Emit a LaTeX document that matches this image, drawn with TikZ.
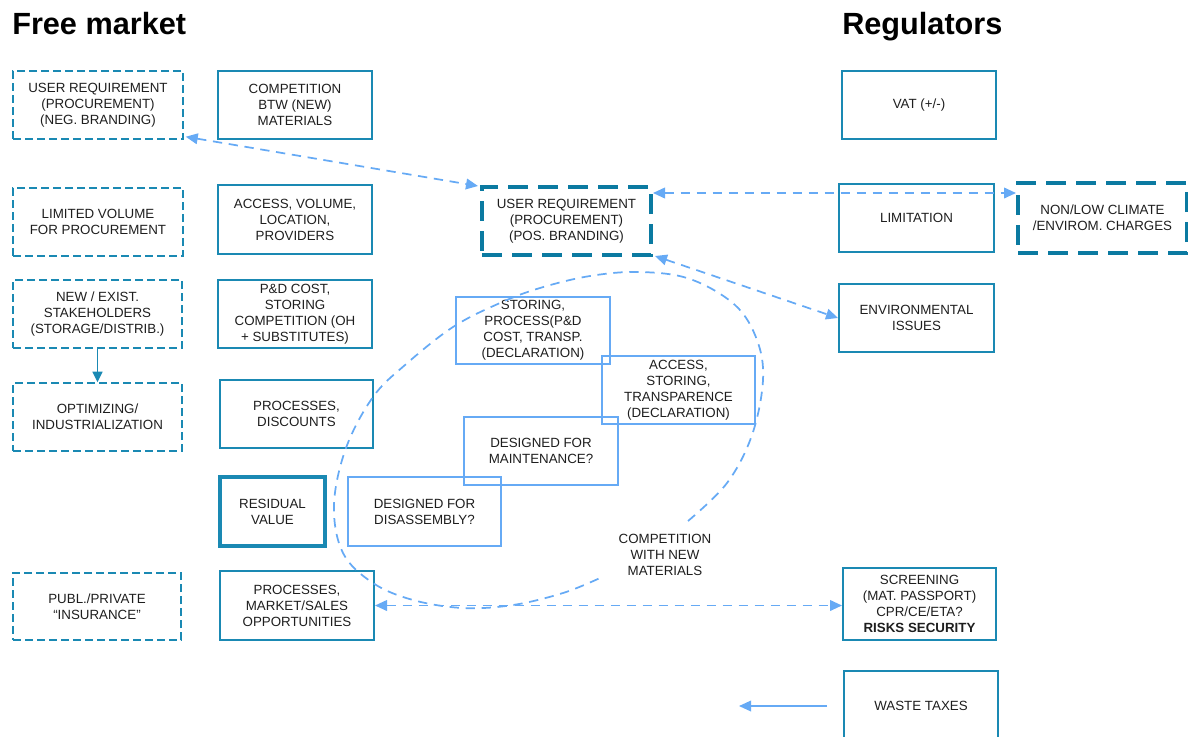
\documentclass[tikz,border=0pt]{standalone}
\usepackage{fontspec}
\setmainfont{Liberation Sans}
\usetikzlibrary{arrows.meta,calc}
\definecolor{teal1}{HTML}{1A89B3}
\definecolor{teal2}{HTML}{0B7AA1}
\definecolor{lblue}{HTML}{66AAF5}
\definecolor{tgray}{HTML}{1E1E1E}
\tikzset{
  txt/.style={font=\fontsize{10}{12}\selectfont, text=tgray, align=center, inner sep=0pt},
  bx/.style n args={2}{minimum width=#1*0.75pt, minimum height=#2*0.75pt},
  dashbox/.style={txt, draw=teal1, line width=1.1pt, dash pattern=on 6pt off 3pt},
  solidbox/.style={txt, draw=teal1, line width=1.5pt},
  thickbox/.style={txt, draw=teal1, line width=3pt},
  thickdash/.style={txt, draw=teal2, line width=3pt, dash pattern=on 15pt off 7.5pt},
  lbox/.style={txt, draw=lblue, line width=1.3pt},
  darr/.style={draw=lblue, line width=1.3pt, dash pattern=on 7pt off 5pt,
     {Triangle[length=9pt,width=8pt]}-{Triangle[length=9pt,width=8pt]}},
  sarr/.style={draw=lblue, line width=1pt, -{Triangle[length=9pt,width=8pt]}},
  tarr/.style={draw=teal1, line width=1.1pt, -{Triangle[length=8pt,width=7.5pt]}},
  loopline/.style={draw=lblue, line width=1.3pt, dash pattern=on 7pt off 5pt},
  title/.style={font=\fontsize{23}{26}\selectfont\bfseries, text=black, inner sep=0pt, anchor=base west}
}
\begin{document}
\begin{tikzpicture}[x=0.75pt,y=-0.75pt]
\useasboundingbox (0,0) rectangle (1188,736);
\clip (0,0) rectangle (1188,736);

% titles
\node[title] (tfree) at (12,34) {Free market};
\node[title] (treg) at (842,34) {Regulators};

% left dashed column
\node[dashbox, bx={170}{68}] (urneg) at (98,105) {USER REQUIREMENT\\(PROCUREMENT)\\(NEG. BRANDING)};
\node[dashbox, bx={170}{68}] (limvol) at (98,222) {LIMITED VOLUME\\FOR PROCUREMENT};
\node[dashbox, bx={169}{68}] (newex) at (97.5,314) {NEW / EXIST.\\STAKEHOLDERS\\(STORAGE/DISTRIB.)};
\node[dashbox, bx={169}{68}] (optim) at (97.5,417) {OPTIMIZING/\\INDUSTRIALIZATION};
\node[dashbox, bx={168}{67}] (publ) at (97,606.5) {PUBL./PRIVATE\\“INSURANCE”};

% second column
\node[solidbox, bx={154}{68}] (compbtw) at (295,105) {COMPETITION\\BTW (NEW)\\MATERIALS};
\node[solidbox, bx={154}{69}] (access) at (295,219.5) {ACCESS, VOLUME,\\LOCATION,\\PROVIDERS};
\node[solidbox, bx={154}{68}] (pdcost) at (295,314) {P\&D COST,\\STORING\\COMPETITION (OH\\+ SUBSTITUTES)};
\node[solidbox, bx={153}{68}] (procdisc) at (296.5,414) {PROCESSES,\\DISCOUNTS};
\node[thickbox, bx={105}{69}] (resid) at (272.5,511.5) {RESIDUAL\\VALUE};
\node[solidbox, bx={154}{69}] (procm) at (297,605.5) {PROCESSES,\\MARKET/SALES\\OPPORTUNITIES};

% center
\node[thickdash, bx={169}{68}] (urpos) at (566.5,221) {USER REQUIREMENT\\(PROCUREMENT)\\(POS. BRANDING)};
\node[lbox, bx={154}{67}] (stor) at (533,330.5) {STORING,\\PROCESS(P\&D\\COST, TRANSP.\\(DECLARATION)};
\node[lbox, bx={153}{68}] (accstor) at (678.5,390) {ACCESS,\\STORING,\\TRANSPARENCE\\(DECLARATION)};
\node[lbox, bx={154}{68}] (dmaint) at (541,451) {DESIGNED FOR\\MAINTENANCE?};
\node[lbox, bx={153}{69}] (ddis) at (424.5,511.5) {DESIGNED FOR\\DISASSEMBLY?};
\node[txt] (compnew) at (665,555) {COMPETITION\\WITH NEW\\MATERIALS};

% right column
\node[solidbox, bx={154}{68}] (vat) at (919,105) {VAT (+/-)};
\node[solidbox, bx={155}{68}] (limit) at (916.5,218) {LIMITATION};
\node[thickdash, bx={169}{70}] (nonlow) at (1102.5,218) {NON/LOW CLIMATE\\/ENVIROM. CHARGES};
\node[solidbox, bx={155}{68}] (env) at (916.5,318) {ENVIRONMENTAL\\ISSUES};
\node[solidbox, bx={153}{72}] (screen) at (919.5,604) {SCREENING\\(MAT. PASSPORT)\\CPR/CE/ETA?\\\textbf{RISKS SECURITY}};
\node[solidbox, bx={154}{70}] (waste) at (921,706) {WASTE TAXES};

% dashed loop
\draw[loopline]
  plot[smooth, tension=0.6] coordinates {(688,521) (727,483) (752,435) (763,380) (757,340) (735,305) (690,279) (640,272) (590,276) (540,288) (500,303) (453,327) (405,365) (373,397) (346,448) (334,505) (343,553) (373,583) (413,600) (463,608) (513,605) (563,593) (600,578)};

% connectors
\draw[darr] ([shift={(2,-3)}]urneg.south east) -- ([shift={(-2,1)}]urpos.north west);
\draw[darr] ([yshift=-6pt]urpos.north east) -- ([yshift=-6pt]urpos.north east -| nonlow.west);
\draw[darr] ([shift={(2,-1)}]urpos.south east) -- (env.west);
\draw[darr] (procm.east) -- (procm.east -| screen.west);
\draw[tarr] (newex.south) -- (optim.north);
\coordinate (wend) at ($(waste.west)+(-104,0)$);
\draw[sarr] ([xshift=-12pt]waste.west) -- (wend);
\end{tikzpicture}
\end{document}
